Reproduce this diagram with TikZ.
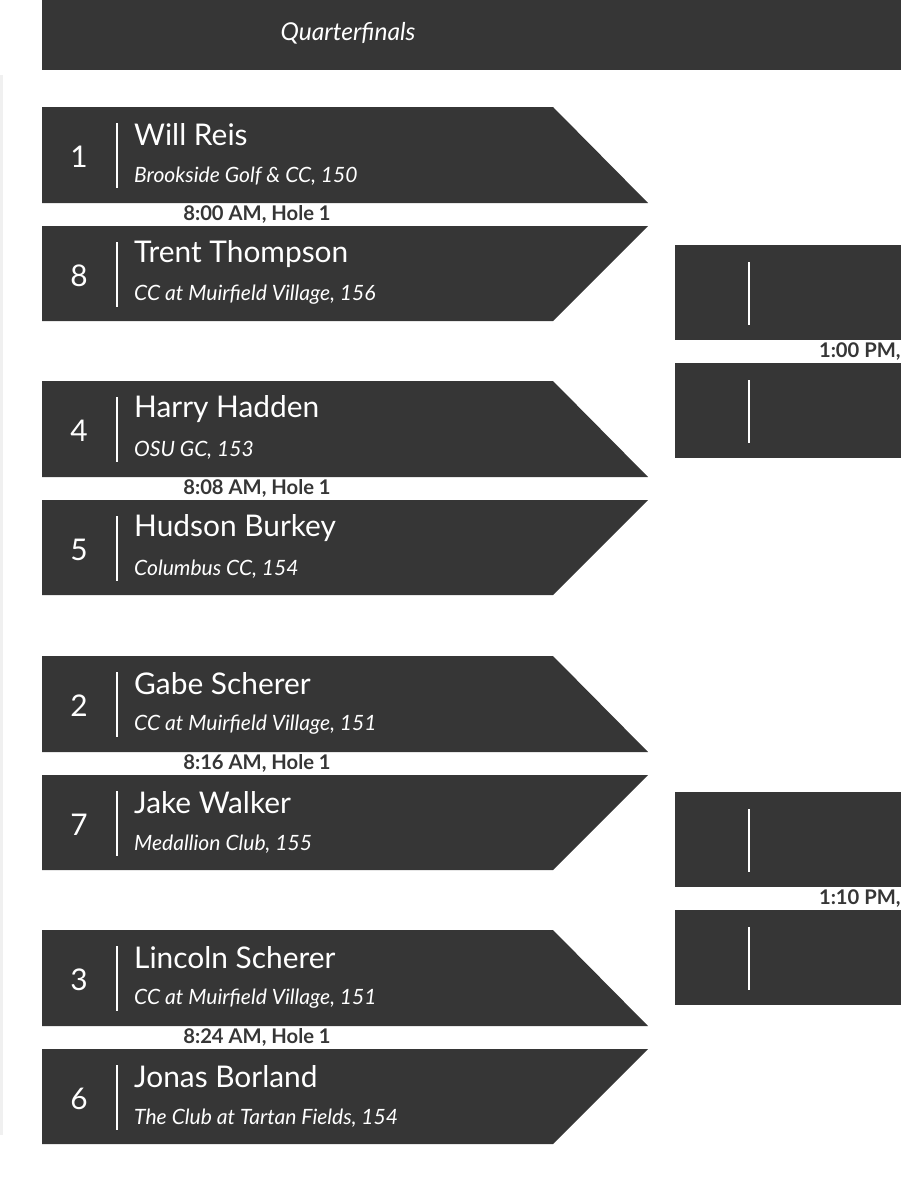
\documentclass[tikz,border=0pt]{standalone}
\usepackage{fontspec}
\setmainfont{Lato}
\usetikzlibrary{positioning}
\definecolor{bracket}{HTML}{363636}
\begin{document}
\begin{tikzpicture}[x=0.02cm,y=-0.02cm,
  seed node/.style={text=white,font=\fontsize{17}{20}\selectfont,anchor=center},
  name node/.style={text=white,font=\fontsize{17}{20}\selectfont,anchor=west},
  club node/.style={text=white,font=\fontsize{12}{14}\itshape,anchor=west},
  time node/.style={text=bracket,font=\fontsize{11.5}{13}\bfseries\selectfont},
  bar/.style={white,line width=1.2pt}]
 \useasboundingbox (0,0) rectangle (901,1200);
 \fill[gray!12] (0,75) rectangle (3,1135);
 % header
 \fill[bracket] (42,0) rectangle (901,70);
 \node[text=white,font=\fontsize{14}{16}\itshape] (hdr) at (348,33) {Quarterfinals};
 % quarterfinal matches
 \foreach \t/\sa/\na/\ca/\sb/\nb/\cb/\tm in {
   107/1/Will Reis/{Brookside Golf \& CC, 150}/8/Trent Thompson/{CC at Muirfield Village, 156}/{8:00 AM, Hole 1},
   381/4/Harry Hadden/{OSU GC, 153}/5/Hudson Burkey/{Columbus CC, 154}/{8:08 AM, Hole 1},
   656/2/Gabe Scherer/{CC at Muirfield Village, 151}/7/Jake Walker/{Medallion Club, 155}/{8:16 AM, Hole 1},
   930/3/Lincoln Scherer/{CC at Muirfield Village, 151}/6/Jonas Borland/{The Club at Tartan Fields, 154}/{8:24 AM, Hole 1}}{
   \pgfmathsetmacro{\u}{\t+119}
   \fill[bracket] (42,\t) -- (553,\t) -- (648,\t+96) -- (42,\t+96) -- cycle;
   \fill[bracket] (42,\u) -- (648,\u) -- (553,\u+95) -- (42,\u+95) -- cycle;
   \node[seed node] (sa\sa) at (79,\t+50) {\sa};
   \draw[bar] (117,\t+16) -- (117,\t+81);
   \node[name node] (na\sa) at (128,\t+28) {\na};
   \node[club node] (ca\sa) at (128,\t+69) {\ca};
   \node[seed node] (sb\sb) at (79,\u+50) {\sb};
   \draw[bar] (117,\u+16) -- (117,\u+81);
   \node[name node] (nb\sb) at (128,\u+28) {\nb};
   \node[club node] (cb\sb) at (128,\u+69) {\cb};
   \node[time node] (tm\sa) at (257,\t+107) {\tm};
 }
 % semifinals
 \foreach \t/\tm in {245/{1:00 PM,}, 792/{1:10 PM,}}{
   \fill[bracket] (675,\t) rectangle (901,\t+95);
   \fill[bracket] (675,\t+118) rectangle (901,\t+213);
   \draw[bar] (749,\t+17) -- (749,\t+80);
   \draw[bar] (749,\t+135) -- (749,\t+198);
   \node[time node,anchor=east,inner sep=0pt] (sf\t) at (901,\t+107) {\tm};
 }
\end{tikzpicture}
\end{document}
